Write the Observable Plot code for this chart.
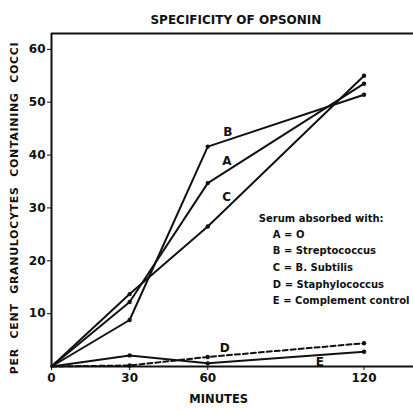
<!DOCTYPE html>
<html>
<head>
<meta charset="utf-8">
<script src="https://cdn.jsdelivr.net/npm/d3@7"></script>
<script src="https://cdn.jsdelivr.net/npm/@observablehq/plot@0.6"></script>
<style>
  html, body { margin: 0; padding: 0; background: #fff; }
  #chart svg { display: block; }
</style>
</head>
<body>
<div id="chart"></div>
<script>
const minutes = [0, 30, 60, 120];
const seriesA = [0, 12.2, 34.7, 53.5];
const seriesB = [0, 8.8, 41.6, 51.4];
const seriesC = [0, 13.7, 26.5, 55.0];
const seriesD = [0, 0.2, 1.8, 4.4];
const seriesE = [0, 2.1, 0.6, 2.8];
const seriesNames = ["A", "B", "C", "D", "E"];
const xTicks = [0, 30, 60, 120];
const yTicks = [10, 20, 30, 40, 50, 60];
const title = "SPECIFICITY OF OPSONIN";
const xTitle = "MINUTES";
const yTitle = "PER CENT GRANULOCYTES CONTAINING COCCI";
const legendHeader = "Serum absorbed with:";
const legendItems = ["A = O", "B = Streptococcus", "C = B. Subtilis", "D = Staphylococcus", "E = Complement control"];

const allSeries = [seriesA, seriesB, seriesC, seriesD, seriesE];
const rows = [];
allSeries.forEach((vals, i) => vals.forEach((v, j) => rows.push({series: seriesNames[i], minute: minutes[j], value: v})));
const solid = rows.filter(d => d.series !== "D");
const dashed = rows.filter(d => d.series === "D");

// series letter labels placed near their lines
const letterLabels = [
  {t: "B", x: 67.7, y: 44.4},
  {t: "A", x: 67.3, y: 38.8},
  {t: "C", x: 67.3, y: 32.0},
  {t: "D", x: 66.5, y: 3.4},
  {t: "E", x: 103, y: 0.9}
];
const legendRows = [{t: legendHeader, x: 79.6, y: 28.0}].concat(
  legendItems.map((t, i) => ({t, x: 85, y: 25.0 - i * 3.15}))
);

const font = "'DejaVu Sans', sans-serif";
const chart = Plot.plot({
  width: 413,
  height: 411,
  marginLeft: 51,
  marginRight: 0,
  marginTop: 33,
  marginBottom: 45,
  style: {fontFamily: font, fontWeight: "bold", fontSize: "11px", color: "#111", background: "#fff"},
  x: {domain: [0, 139], ticks: xTicks, tickSize: 4, tickPadding: 3, label: null},
  y: {domain: [0, 63], ticks: yTicks, tickSize: 4, tickPadding: 2, label: null},
  marks: [
    Plot.ruleY([0], {stroke: "#111", strokeWidth: 2}),
    Plot.ruleY([63], {stroke: "#111", strokeWidth: 2}),
    Plot.ruleX([0], {stroke: "#111", strokeWidth: 2}),
    Plot.axisX({ticks: xTicks, tickSize: 4, tickPadding: 3, fontSize: 12, fontWeight: "bold", label: null}),
    Plot.axisY({ticks: yTicks, tickSize: 4, tickPadding: 2, fontSize: 12, fontWeight: "bold", label: null}),
    Plot.line(solid, {x: "minute", y: "value", z: "series", stroke: "#111", strokeWidth: 2}),
    Plot.line(dashed, {x: "minute", y: "value", stroke: "#111", strokeWidth: 2, strokeDasharray: "5,3"}),
    Plot.dot(rows.filter(d => d.minute > 0), {x: "minute", y: "value", r: 2.2, fill: "#111"}),
    Plot.text(letterLabels, {x: "x", y: "y", text: "t", fontSize: 12, fontWeight: "bold", fill: "#111"}),
    Plot.text(legendRows, {x: "x", y: "y", text: "t", textAnchor: "start", fontSize: 10, fontWeight: "bold", fill: "#111"}),
    Plot.text([title], {x: 70.8, frameAnchor: "top", dy: -18, text: d => d, fontSize: 12, fontWeight: "bold", fill: "#111"}),
    Plot.text([xTitle], {x: 64.2, frameAnchor: "bottom", dy: 36, text: d => d, fontSize: 11.5, fontWeight: "bold", fill: "#111"}),
    Plot.text([yTitle], {y: 30, frameAnchor: "left", dx: -37, rotate: -90, textAnchor: "middle", text: d => d, fontSize: 11, fontWeight: "bold", fill: "#111"})
  ]
});
d3.select(chart).selectAll("text").filter(function () { return this.textContent === yTitle; })
  .style("letter-spacing", "0.7px").style("word-spacing", "5px");
document.getElementById("chart").appendChild(chart);
</script>
</body>
</html>
